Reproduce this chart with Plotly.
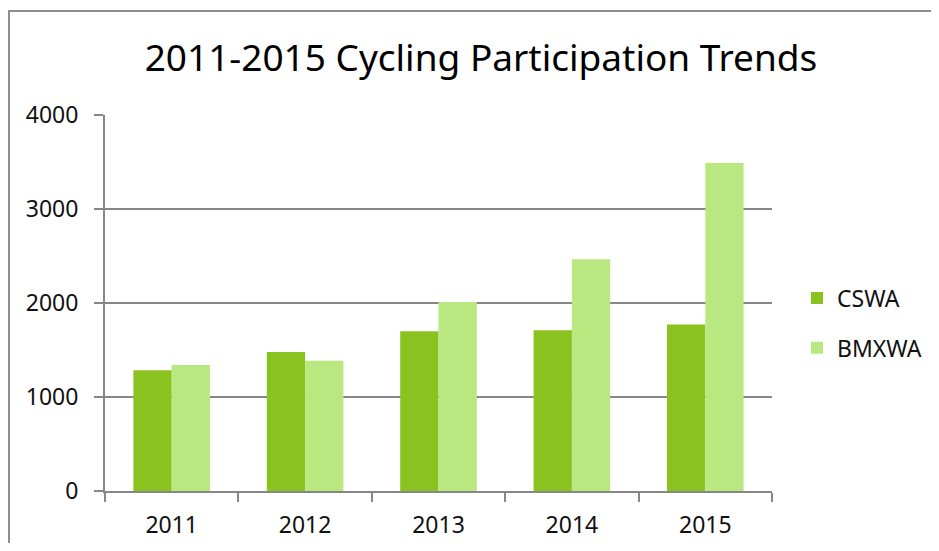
import plotly.graph_objects as go

years = ["2011", "2012", "2013", "2014", "2015"]
cswa = [1285, 1480, 1700, 1710, 1770]
bmxwa = [1340, 1385, 2010, 2465, 3490]
y_ticks = [0, 1000, 2000, 3000, 4000]

# page has an 8px body margin; figure sized to fit the 939x551 window
OFF = 8
W, H = 939 - 2 * OFF, 551 - 2 * OFF
L, R, T, B = 97, 159, 107, 52
pw, ph = W - L - R, H - T - B

def px(x_page):
    return (x_page - OFF - L) / pw

def py(y_page):
    return (H - B - (y_page - OFF)) / ph

fig = go.Figure()
fig.add_trace(go.Bar(x=years, y=cswa, name="CSWA", marker_color="#8AC21F",
                     marker_line_width=0, legendgroup="a"))
fig.add_trace(go.Bar(x=years, y=bmxwa, name="BMXWA", marker_color="#B9E780",
                     marker_line_width=0, legendgroup="b"))

GRAY = "#878787"
fig.update_layout(
    width=W, height=H,
    margin=dict(l=L, r=R, t=T, b=B, autoexpand=False),
    paper_bgcolor="white", plot_bgcolor="white",
    barmode="group", bargap=0.426, bargroupgap=0,
    font=dict(family="Noto Sans", size=23, color="#111111"),
    title=dict(text="2011-2015 Cycling Participation Trends",
               x=px(481), xref="paper", xanchor="center",
               y=1 - (58 - OFF) / H, yanchor="middle",
               font=dict(family="Noto Sans", size=37, color="#000000")),
    xaxis=dict(showline=True, linecolor=GRAY, linewidth=2,
               ticks="outside", tickson="boundaries", ticklen=9,
               tickcolor=GRAY, tickwidth=2, showgrid=False, automargin=False,
               ticklabelstandoff=12, tickfont=dict(size=23)),
    yaxis=dict(range=[0, 4000], tickvals=y_ticks, showline=True,
               linecolor=GRAY, linewidth=2, ticks="outside",
               ticklen=9, tickcolor=GRAY, tickwidth=2, automargin=False,
               showgrid=True, gridcolor=GRAY, gridwidth=2,
               zeroline=False, ticklabelstandoff=11,
               tickfont=dict(size=23)),
    legend=dict(x=px(797), y=py(323), xanchor="left", yanchor="middle",
                traceorder="grouped", tracegroupgap=17,
                font=dict(size=23), itemwidth=30),
    showlegend=True,
)

fig.add_shape(type="rect", xref="paper", yref="paper",
              x0=px(9), x1=px(990), y0=py(600), y1=py(11),
              line=dict(color="#8E8E8E", width=2), fillcolor="rgba(0,0,0,0)",
              layer="below")

fig.write_html("out.html")
